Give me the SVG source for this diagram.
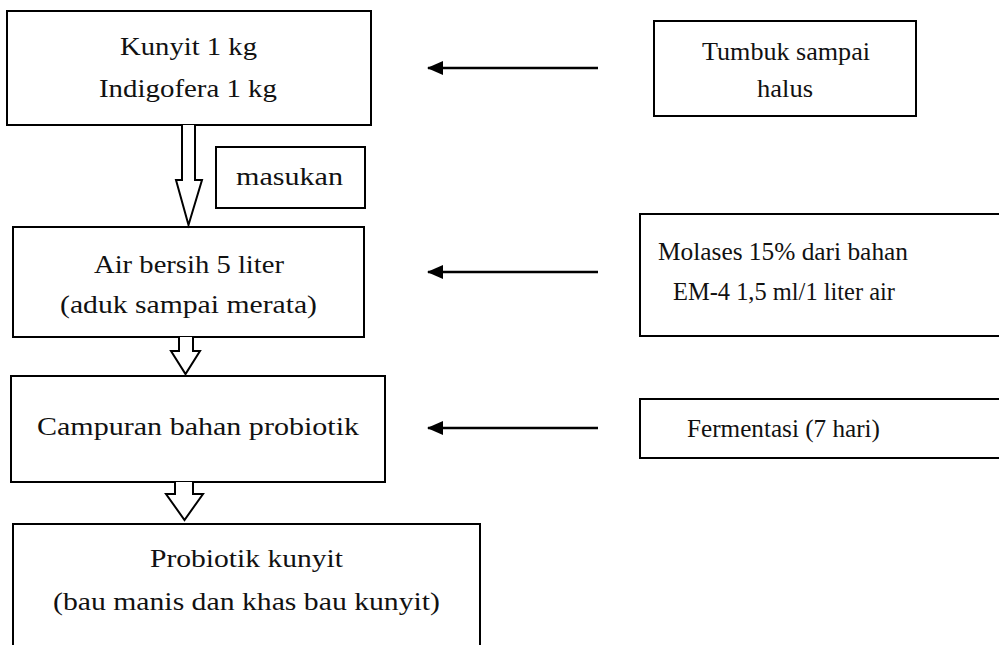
<svg xmlns="http://www.w3.org/2000/svg" width="999" height="645" viewBox="0 0 999 645">
<style>
.box{fill:#fff;stroke:#000;stroke-width:2}
.t{font-family:"Liberation Serif","Times New Roman",serif;font-size:26px;fill:#111;text-anchor:middle}
.hollow{fill:#fff;stroke:#000;stroke-width:2;stroke-linejoin:miter}
.line{stroke:#000;stroke-width:2.5;fill:none}
</style>
<defs>
<marker id="ah" markerUnits="userSpaceOnUse" markerWidth="18" markerHeight="16" refX="16" refY="8" orient="auto" viewBox="0 0 18 16">
<path d="M17,8 L1,1 L1,15 Z" fill="#000"/>
</marker>
</defs>
<rect width="999" height="645" fill="#fff"/>
<g id="n1"><rect class="box" x="7" y="11" width="364" height="114"/><text class="t" x="188.5" y="55" textLength="137" lengthAdjust="spacingAndGlyphs">Kunyit 1 kg</text><text class="t" x="188" y="97" textLength="178" lengthAdjust="spacingAndGlyphs">Indigofera 1 kg</text></g>
<g id="n2"><rect class="box" x="216" y="147" width="149" height="61"/><text class="t" x="289.5" y="185" textLength="107" lengthAdjust="spacingAndGlyphs">masukan</text></g>
<g id="n3"><rect class="box" x="13" y="227" width="351" height="110"/><text class="t" x="189" y="273" textLength="190" lengthAdjust="spacingAndGlyphs">Air bersih 5 liter</text><text class="t" x="188.5" y="313" textLength="257" lengthAdjust="spacingAndGlyphs">(aduk sampai merata)</text></g>
<g id="n4"><rect class="box" x="11" y="376" width="374" height="106"/><text class="t" x="198" y="435" textLength="322" lengthAdjust="spacingAndGlyphs">Campuran bahan probiotik</text></g>
<g id="n5"><path class="box" d="M13,650 L13,524 L480,524 L480,650"/><text class="t" x="246.5" y="567" textLength="193" lengthAdjust="spacingAndGlyphs">Probiotik kunyit</text><text class="t" x="246.5" y="610" textLength="387" lengthAdjust="spacingAndGlyphs">(bau manis dan khas bau kunyit)</text></g>
<g id="n6"><rect class="box" x="654" y="21" width="262" height="95"/><text class="t" x="786" y="60" textLength="168" lengthAdjust="spacingAndGlyphs">Tumbuk sampai</text><text class="t" x="785" y="97" textLength="56" lengthAdjust="spacingAndGlyphs">halus</text></g>
<g id="n7"><rect class="box" x="640" y="214" width="380" height="122"/><text class="t" x="783" y="260" textLength="250" lengthAdjust="spacingAndGlyphs">Molases 15% dari bahan</text><text class="t" x="784" y="300" textLength="222" lengthAdjust="spacingAndGlyphs">EM-4 1,5 ml/1 liter air</text></g>
<g id="n8"><rect class="box" x="640" y="399" width="380" height="59"/><text class="t" x="783.5" y="437" textLength="193" lengthAdjust="spacingAndGlyphs">Fermentasi (7 hari)</text></g>
<g id="connectors">
<path class="hollow" d="M182,125 L182,180 L176,180 L188.5,225 L202,180 L195,180 L195,125"/>
<path class="hollow" d="M179,337 L179,351 L171,351 L185.5,374 L200,351 L193,351 L193,337"/>
<path class="hollow" d="M175,482 L175,494 L166,494 L184.5,520 L203,494 L193,494 L193,482"/>
<line class="line" x1="598" y1="68" x2="428" y2="68" marker-end="url(#ah)"/>
<line class="line" x1="598" y1="272" x2="428" y2="272" marker-end="url(#ah)"/>
<line class="line" x1="598" y1="428" x2="428" y2="428" marker-end="url(#ah)"/>
</g>
</svg>
